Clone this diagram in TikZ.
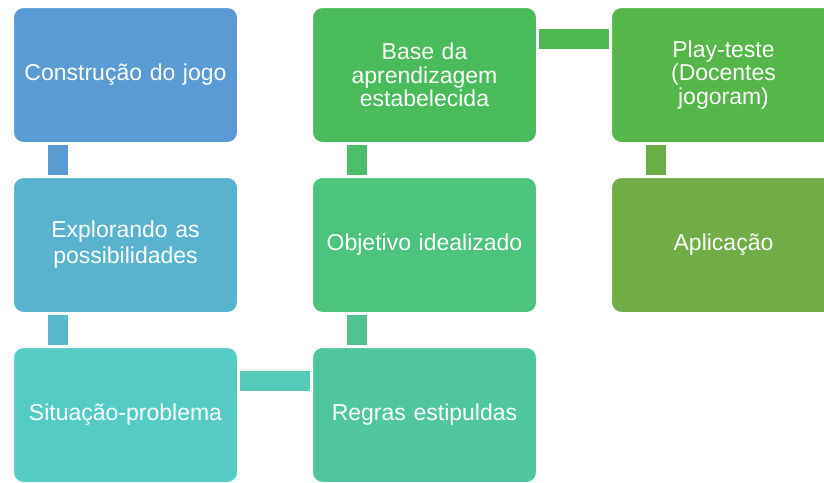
\documentclass[tikz,border=0pt]{standalone}
\usepackage{fontspec}
\setmainfont{Liberation Sans}
\usetikzlibrary{positioning}

\definecolor{colCon}{HTML}{5B9BD5}
\definecolor{colExp}{HTML}{59B3CE}
\definecolor{colSit}{HTML}{54CCC5}
\definecolor{colReg}{HTML}{50C6A0}
\definecolor{colObj}{HTML}{4DC47D}
\definecolor{colBase}{HTML}{4ABB5B}
\definecolor{colPlay}{HTML}{55B64A}
\definecolor{colApl}{HTML}{70AD47}

\begin{document}
\begin{tikzpicture}[
    stagebox/.style = {rectangle, rounded corners=10pt, draw=white, line width=1pt, minimum width=224pt, minimum height=135pt, inner sep=0pt, text width=214pt, align=center, text=white, font=\fontsize{23}{26}\selectfont},
    tight/.style = {font=\fontsize{23}{23.3}\selectfont},
    link/.style = {line width=20pt, shorten <=2pt, shorten >=2pt},
    node distance=34pt and 74pt
]
\useasboundingbox (0,0) rectangle (824pt,-482pt);

% first column
\node [stagebox, fill=colCon, anchor=north west] (con) at (13pt,-7pt) {Construção do jogo};
\node [stagebox, fill=colExp, below=of con] (exp) {Explorando as\\possibilidades};
\node [stagebox, fill=colSit, below=of exp] (sit) {Situação-problema};

% second column
\node [stagebox, fill=colReg, right=of sit] (reg) {Regras estipuldas};
\node [stagebox, fill=colObj, above=of reg] (obj) {Objetivo idealizado};
\node [stagebox, tight, fill=colBase, above=of obj] (base) {Base da\\aprendizagem\\estabelecida};

% third column
\node [stagebox, tight, fill=colPlay, right=of base] (play) {Play-teste\\(Docentes\\jogoram)};
\node [stagebox, fill=colApl, below=of play] (apl) {Aplicação};

% connectors
\draw [link, color=colCon] ([xshift=45pt]con.south west) -- ([xshift=45pt]exp.north west);
\draw [link, color={rgb,255:red,88;green,185;blue,205}] ([xshift=45pt]exp.south west) -- ([xshift=45pt]sit.north west);
\draw [link, color={rgb,255:red,83;green,203;blue,184}] ([yshift=-34pt]sit.north east) -- ([yshift=-34pt]reg.north west);
\draw [link, color={rgb,255:red,79;green,195;blue,146}] ([xshift=45pt]reg.north west) -- ([xshift=45pt]obj.south west);
\draw [link, color={rgb,255:red,75;green,191;blue,108}] ([xshift=45pt]obj.north west) -- ([xshift=45pt]base.south west);
\draw [link, color={rgb,255:red,77;green,184;blue,82}] ([yshift=-32pt]base.north east) -- ([yshift=-32pt]play.north west);
\draw [link, color={rgb,255:red,107;green,173;blue,71}] ([xshift=45pt]play.south west) -- ([xshift=45pt]apl.north west);

\end{tikzpicture}
\end{document}
